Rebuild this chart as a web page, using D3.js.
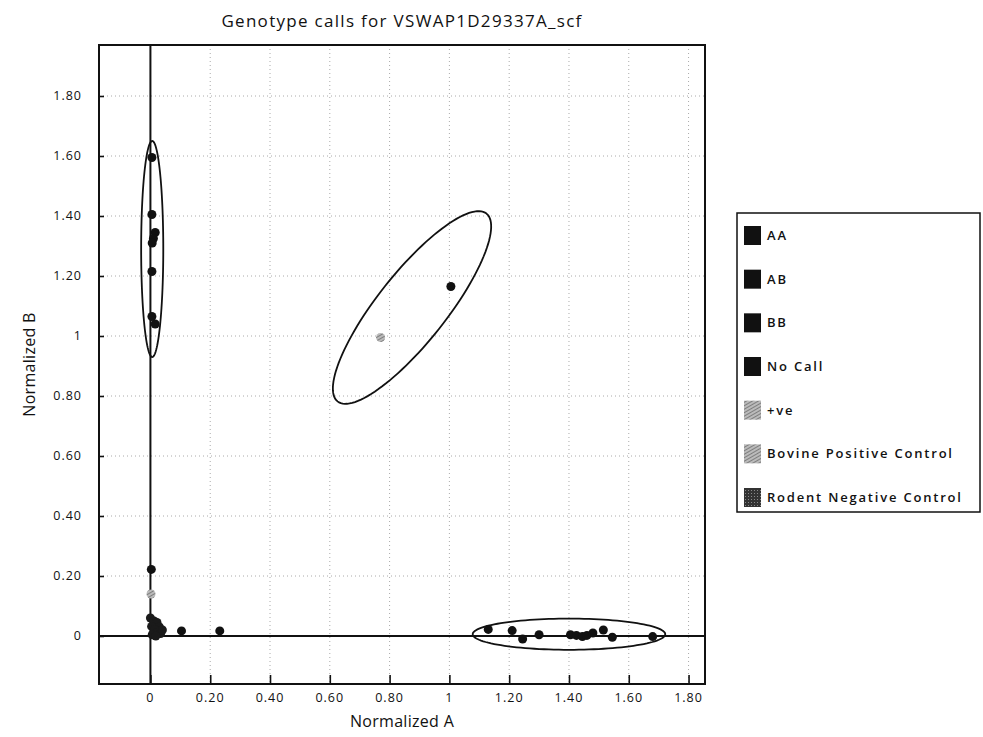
<!DOCTYPE html>
<html><head><meta charset="utf-8">
<script src="https://cdn.jsdelivr.net/npm/d3@7"></script>
<style>body{margin:0;background:#fff}svg{display:block}text{font-family:"Open Sans","DejaVu Sans",sans-serif;fill:#111}</style>
</head><body>
<script>
const title = "Genotype calls for VSWAP1D29337A_scf";
const xTicks = [0,0.2,0.4,0.6,0.8,1,1.2,1.4,1.6,1.8];
const yTicks = [0,0.2,0.4,0.6,0.8,1,1.2,1.4,1.6,1.8];
const tickFmt = v => v===0 ? "0" : (v===1 ? "1" : v.toFixed(2));
const legendNames = ["AA","AB","BB","No Call","+ve","Bovine Positive Control","Rodent Negative Control"];
const seriesAA = [[1.13,0.022],[1.21,0.018],[1.245,-0.01],[1.30,0.004],[1.405,0.004],[1.425,0.002],[1.445,-0.002],[1.46,0.002],[1.48,0.010],[1.515,0.020],[1.545,-0.004],[1.68,-0.002]];
const seriesAB = [[1.005,1.165]];
const seriesBB = [[0.005,1.595],[0.005,1.405],[0.016,1.345],[0.010,1.325],[0.006,1.31],[0.005,1.215],[0.005,1.065],[0.016,1.04]];
const seriesNoCall = [[0.003,0.222],[0.104,0.017],[0.232,0.017]];
const seriesPos = [[0.002,0.140]];
const seriesBovine = [[0.77,0.995]];
const seriesRodent = [[0.0,0.06],[0.012,0.05],[0.022,0.045],[0.03,0.03],[0.004,0.032],[0.014,0.022],[0.024,0.012],[0.034,0.008],[0.006,0.004],[0.04,0.02],[0.018,0.0]];
// ellipses: [cx, cy, semiMajor, semiMinor, angleDeg]
const ellipses = [[0.006,1.29,0.36,0.037,90],[0.875,1.095,0.40,0.115,51.5],[1.40,0.006,0.322,0.052,0]];

const W=983,H=737;
const L=99,R=705,T=45,B=684;
const svg=d3.select("body").append("svg").attr("width",W).attr("height",H);
const defs=svg.append("defs");
const hatch=defs.append("pattern").attr("id","hatch").attr("patternUnits","userSpaceOnUse").attr("width",3).attr("height",3).attr("patternTransform","rotate(60)");
hatch.append("rect").attr("width",3).attr("height",3).attr("fill","#bbb");
hatch.append("line").attr("x1",0).attr("y1",0).attr("x2",0).attr("y2",3).attr("stroke","#555").attr("stroke-width",1.2);
const speck=defs.append("pattern").attr("id","speck").attr("patternUnits","userSpaceOnUse").attr("width",3).attr("height",3);
speck.append("rect").attr("width",3).attr("height",3).attr("fill","#333");
speck.append("rect").attr("x",1).attr("y",1).attr("width",1).attr("height",1).attr("fill","#888");

const x=d3.scaleLinear().domain([-0.172,1.855]).range([L,R]);
const y=d3.scaleLinear().domain([-0.16,1.97]).range([B,T]);

// grid
const g=svg.append("g");
g.selectAll(".vg").data(xTicks.filter(d=>d!==0)).join("line").attr("x1",d=>x(d)).attr("x2",d=>x(d)).attr("y1",T).attr("y2",B)
 .attr("stroke","#aaa").attr("stroke-width",1).attr("stroke-dasharray","1,3");
g.selectAll(".hg").data(yTicks.filter(d=>d!==0)).join("line").attr("y1",d=>y(d)).attr("y2",d=>y(d)).attr("x1",L).attr("x2",R)
 .attr("stroke","#aaa").attr("stroke-width",1).attr("stroke-dasharray","1,3");
// zero lines
svg.append("line").attr("x1",x(0)).attr("x2",x(0)).attr("y1",T).attr("y2",B).attr("stroke","#111").attr("stroke-width",2);
svg.append("line").attr("x1",L).attr("x2",R).attr("y1",y(0)).attr("y2",y(0)).attr("stroke","#111").attr("stroke-width",2);

// axes
const xa=svg.append("g").attr("transform",`translate(0,${B})`).call(d3.axisTop(x).tickValues(xTicks).tickSize(9).tickFormat(""));
xa.select(".domain").remove(); xa.selectAll("line").attr("stroke","#111").attr("stroke-width",1.6);
const ya=svg.append("g").attr("transform",`translate(${L},0)`).call(d3.axisRight(y).tickValues(yTicks).tickSize(5).tickFormat(""));
ya.select(".domain").remove(); ya.selectAll("line").attr("stroke","#111").attr("stroke-width",1.6);
svg.append("g").selectAll("text").data(xTicks).join("text").attr("x",d=>x(d)).attr("y",B+18).attr("text-anchor","middle")
 .attr("font-size",12.5).attr("letter-spacing",1).text(tickFmt);
svg.append("g").selectAll("text").data(yTicks).join("text").attr("x",L-17).attr("y",d=>y(d)+4).attr("text-anchor","end")
 .attr("font-size",12.5).attr("letter-spacing",1).text(tickFmt);

// frame
svg.append("rect").attr("x",L).attr("y",T).attr("width",R-L).attr("height",B-T).attr("fill","none").attr("stroke","#111").attr("stroke-width",2);

// ellipses
const line=d3.line().x(p=>x(p[0])).y(p=>y(p[1])).curve(d3.curveLinearClosed);
ellipses.forEach(([cx,cy,a,b,ang])=>{
  const th=ang*Math.PI/180;
  const pts=d3.range(0,360,3).map(t=>{const r=t*Math.PI/180;const u=a*Math.cos(r),v=b*Math.sin(r);
    return [cx+u*Math.cos(th)-v*Math.sin(th), cy+u*Math.sin(th)+v*Math.cos(th)];});
  svg.append("path").attr("d",line(pts)).attr("fill","none").attr("stroke","#111").attr("stroke-width",1.8);
});

// points
const series=[[seriesRodent,"#1a1a1a"],[seriesNoCall,"#111"],[seriesAA,"#111"],[seriesAB,"#111"],[seriesBB,"#111"],[seriesPos,"url(#hatch)"],[seriesBovine,"url(#hatch)"]];
series.forEach(([data,fill])=>{
  svg.append("g").selectAll("circle").data(data).join("circle").attr("cx",d=>x(d[0])).attr("cy",d=>y(d[1])).attr("r",4.5).attr("fill",fill);
});

// titles
svg.append("text").attr("x",(L+R)/2).attr("y",27).attr("text-anchor","middle").attr("font-size",17).attr("letter-spacing",1.3).text(title);
svg.append("text").attr("x",(L+R)/2).attr("y",727).attr("text-anchor","middle").attr("font-size",16).attr("letter-spacing",0.3).text("Normalized A");
svg.append("text").attr("transform",`translate(35,${(T+B)/2}) rotate(-90)`).attr("text-anchor","middle").attr("font-size",16).attr("letter-spacing",0.3).text("Normalized B");

// legend
const lg=svg.append("g");
lg.append("rect").attr("x",737).attr("y",213).attr("width",243).attr("height",299).attr("fill","#fff").attr("stroke","#111").attr("stroke-width",1.5);
const swFill=["#111","#111","#111","#111","url(#hatch)","url(#hatch)","url(#speck)"];
const rowY=d3.scalePoint().domain(legendNames).range([235,497]);
lg.selectAll(".sw").data(legendNames).join("rect").attr("x",744).attr("y",d=>rowY(d)-9).attr("width",17).attr("height",19).attr("fill",(d,i)=>swFill[i]);
lg.selectAll(".lt").data(legendNames).join("text").attr("x",767).attr("y",d=>rowY(d)+5).attr("font-size",13).attr("font-weight",600).attr("letter-spacing",1.8).text(d=>d);
</script>
</body></html>
